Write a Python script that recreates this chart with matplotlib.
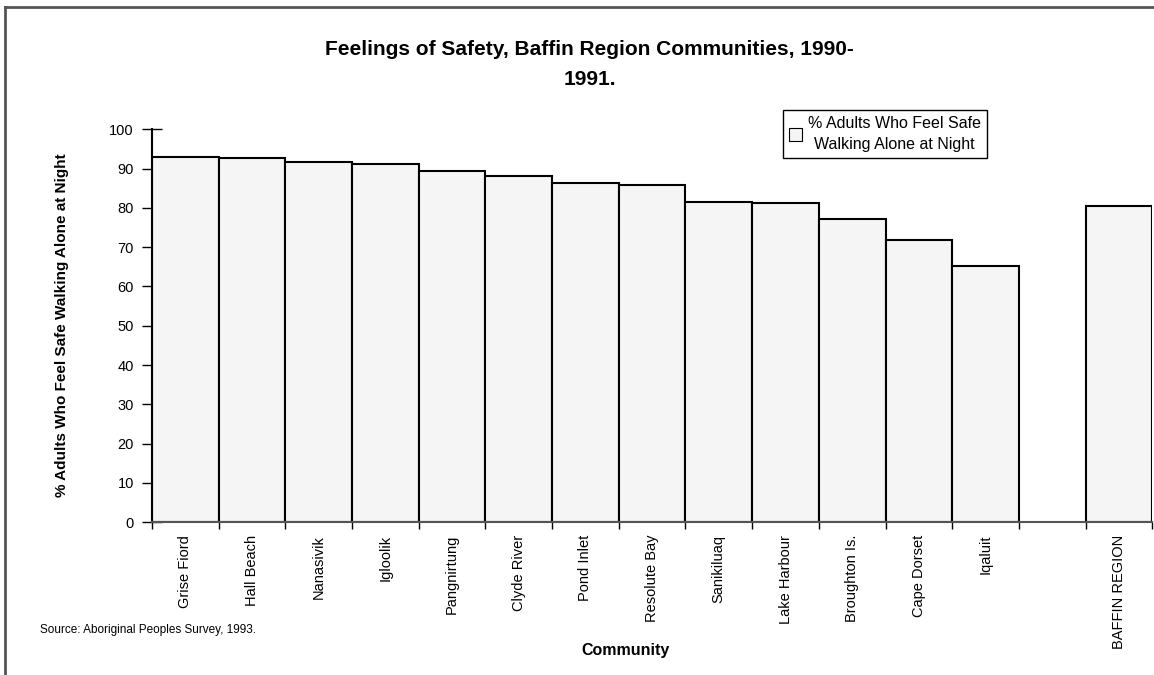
import matplotlib.pyplot as plt
from matplotlib.lines import Line2D

# Data
communities = ['Grise Fiord', 'Hall Beach', 'Nanasivik', 'Igloolik', 'Pangnirtung',
               'Clyde River', 'Pond Inlet', 'Resolute Bay', 'Sanikiluaq',
               'Lake Harbour', 'Broughton Is.', 'Cape Dorset', 'Iqaluit']
pct_safe = [92.9, 92.8, 91.8, 91.2, 89.5, 88.0, 86.4, 85.8, 81.5, 81.2, 77.1, 71.9, 65.3]
region_label = 'BAFFIN REGION'
region_value = 80.6
yticks = [0, 10, 20, 30, 40, 50, 60, 70, 80, 90, 100]


def main():
    plt.rcParams['font.family'] = ['Liberation Sans', 'DejaVu Sans']

    fig = plt.figure(figsize=(11.54, 6.75), dpi=100)
    ax = fig.add_axes([152 / 1154, 1 - 522.3 / 675, 1000.3 / 1154, 393 / 675])

    labels = communities + ['', region_label]
    pos = list(range(len(labels)))
    bar_pos = pos[:len(communities)] + [pos[-1]]
    bar_val = pct_safe + [region_value]

    ax.bar(bar_pos, bar_val, width=1.0, color='#f5f5f5', edgecolor='black',
           linewidth=1.5, label='% Adults Who Feel Safe\nWalking Alone at Night',
           zorder=2)

    ax.set_xlim(-0.5, len(labels) - 0.5)
    ax.set_ylim(0, 100)
    ax.set_yticks(yticks)
    ax.set_yticklabels([str(v) for v in yticks], fontsize=10.5)
    ax.tick_params(axis='y', direction='inout', length=14, width=1, pad=6)

    ax.set_xticks(pos)
    ax.set_xticklabels(labels, rotation=90, fontsize=10.5, va='top')
    ax.tick_params(axis='x', which='major', length=0, pad=9)
    ax.set_xticks([p - 0.5 for p in pos] + [pos[-1] + 0.5], minor=True)
    ax.tick_params(axis='x', which='minor', direction='out', length=5, width=1)

    for s in ['top', 'right']:
        ax.spines[s].set_visible(False)
    ax.spines['left'].set_linewidth(1.5)
    ax.spines['bottom'].set_linewidth(1.5)
    ax.spines['bottom'].set_color('#555555')
    ax.set_facecolor('none')

    fig.text(0.511, 1 - 64.5 / 675,
             'Feelings of Safety, Baffin Region Communities, 1990-\n1991.',
             ha='center', va='center', fontsize=15, fontweight='bold',
             linespacing=1.75)
    fig.text(62 / 1154, 1 - 325 / 675,
             '% Adults Who Feel Safe Walking Alone at Night',
             rotation=90, ha='center', va='center', fontsize=11, fontweight='bold')
    fig.text(625 / 1154, 1 - 651 / 675, 'Community', ha='center', va='center',
             fontsize=11.5, fontweight='bold')
    fig.text(40 / 1154, 1 - 630 / 675, 'Source: Aboriginal Peoples Survey, 1993.',
             ha='left', va='center', fontsize=8.5)

    leg = ax.legend(loc='center', bbox_to_anchor=(885 / 1154, 1 - 134 / 675),
                    bbox_transform=fig.transFigure, fontsize=11.5, fancybox=False,
                    edgecolor='black', framealpha=1, borderpad=0.35,
                    handlelength=0.8, handleheight=0.8, handletextpad=0.4)
    leg.get_frame().set_linewidth(1)
    for h in leg.legend_handles:
        h.set_linewidth(0.8)
    for t in leg.get_texts():
        t.set_linespacing(1.5)
        t.set_multialignment('center')

    # partial outer frame (top and left) as in the reference
    fig.add_artist(Line2D([5 / 1154, 1], [1 - 7 / 675, 1 - 7 / 675],
                          transform=fig.transFigure, color='#555555', linewidth=2))
    fig.add_artist(Line2D([5 / 1154, 5 / 1154], [0, 1 - 7 / 675],
                          transform=fig.transFigure, color='#555555', linewidth=2))

    fig.savefig('out.png', dpi=100)


if __name__ == '__main__':
    main()
